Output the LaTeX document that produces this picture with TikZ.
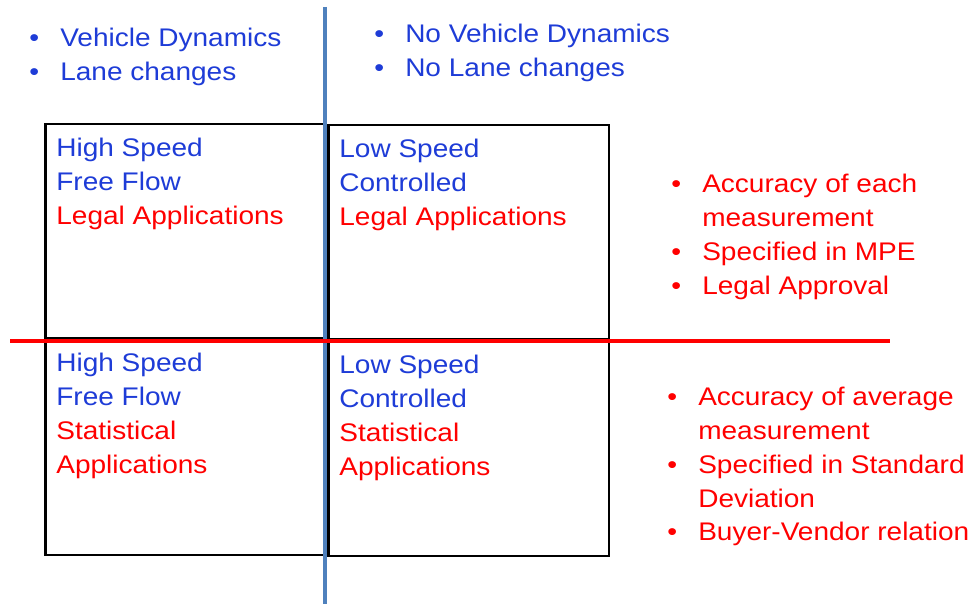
\documentclass[tikz,border=0pt]{standalone}
\usepackage{fontspec}
\setmainfont{Liberation Sans}[FakeStretch=1.1]
\usepackage{xcolor}
\usepackage{tikz}
\usetikzlibrary{positioning}

\definecolor{dynblue}{RGB}{30,60,215}
\definecolor{axisblue}{RGB}{79,129,189}
\newcommand{\itm}{\makebox[17.6pt][l]{\textbullet}}
\newcommand{\ind}{\hspace*{17.6pt}}
\newcommand{\rows}[1]{\begin{tabular}[t]{@{}l@{}}#1\end{tabular}}

\begin{document}
\begin{tikzpicture}[x=0.02cm,y=-0.02cm,
  lbl/.style={inner sep=0pt,anchor=base west,text=dynblue,font=\fontsize{14.5}{19.2}\selectfont},
  cell/.style={draw=black,line width=1.6pt}]
\useasboundingbox (0,0) rectangle (975,604);

% Quadrants
\draw[cell] (45.5,124) rectangle (326,338);
\draw[cell] (328.5,125) rectangle (609,339);
\draw[cell] (45.5,338) rectangle (326,555);
\draw[cell] (328.5,340) rectangle (609,556);

% Axes
\draw[axisblue,line width=2pt] (325,7) -- (325,604);
\draw[red,line width=2pt] (10,341) -- (890,341);

% Top lists
\node[lbl] (dyn) at (29,47) {\rows{\itm Vehicle Dynamics\\ \itm Lane changes}};
\node[lbl] (nodyn) at (374,43) {\rows{\itm No Vehicle Dynamics\\ \itm No Lane changes}};

% Quadrant texts
\node[lbl] (q1) at (56,157) {\rows{High Speed\\ Free Flow\\ \color{red}Legal Applications}};
\node[lbl] (q2) at (339,158) {\rows{Low Speed\\ Controlled\\ \color{red}Legal Applications}};
\node[lbl] (q3) at (56,372) {\rows{High Speed\\ Free Flow\\ \color{red}Statistical\\ \color{red}Applications}};
\node[lbl] (q4) at (339,374) {\rows{Low Speed\\ Controlled\\ \color{red}Statistical\\ \color{red}Applications}};

% Right lists
\node[lbl,text=red] (legal) at (671,193) {\rows{\itm Accuracy of each\\ \ind measurement\\ \itm Specified in MPE\\ \itm Legal Approval}};
\node[lbl,text=red] (stat) at (667,406) {\rows{\itm Accuracy of average\\ \ind measurement\\ \itm Specified in Standard\\ \ind Deviation\\ \itm Buyer-Vendor relation}};
\end{tikzpicture}
\end{document}
